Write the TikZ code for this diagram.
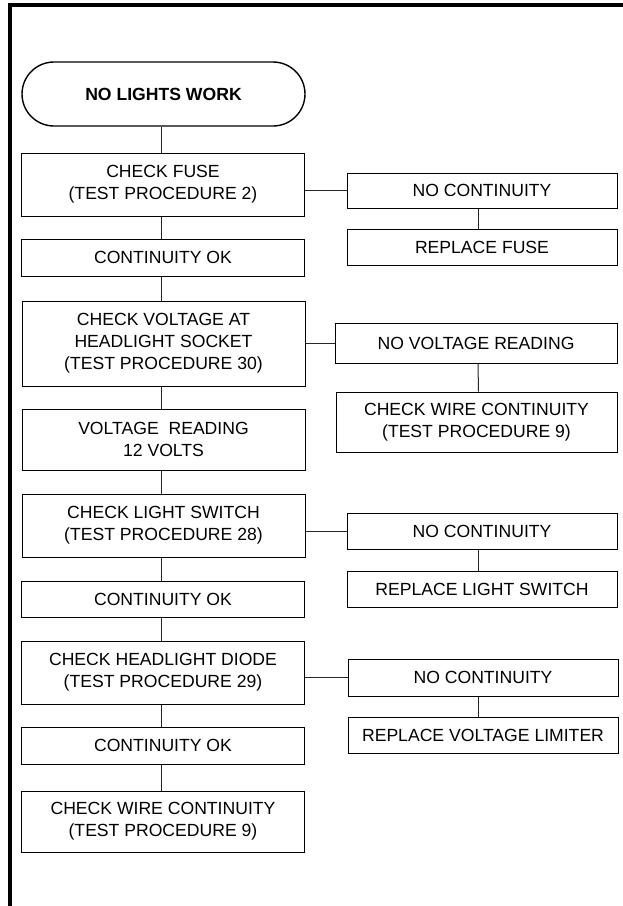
\documentclass[tikz,border=0pt]{standalone}
\usepackage{fontspec}
\setmainfont{Liberation Sans}
\begin{document}
\begin{tikzpicture}[x=1pt,y=-1pt,
  box/.style={draw=black,line width=1pt,inner sep=0pt,align=center,
    font=\fontsize{17.6}{22}\selectfont,text=black},
  mainbox/.style={box,minimum width=283pt},
  sidebox/.style={box,minimum width=270pt},
  term/.style={box,minimum width=283pt,minimum height=64pt,rounded corners=32pt,
    line width=1.4pt,font=\fontsize{17.6}{22}\selectfont\bfseries},
  link/.style={draw=black!85,line width=1pt}]
\useasboundingbox (0,0) rectangle (623,906);
\fill[white] (0,0) rectangle (623,906);
\draw[line width=4pt] (623,4.7) -- (9.5,4.7) -- (9.5,906);
% main column
\node[term] (start) at (163.5,94) {NO LIGHTS WORK};
\node[mainbox,minimum height=63pt] (f1) at (163,184.5) {CHECK FUSE\\(TEST PROCEDURE 2)};
\node[mainbox,minimum height=37pt] (c1) at (163,257.5) {CONTINUITY OK};
\node[mainbox,minimum height=85pt] (v1) at (163.5,343.5) {CHECK VOLTAGE AT\\HEADLIGHT SOCKET\\(TEST PROCEDURE 30)};
\node[mainbox,minimum height=61pt] (v2) at (163.5,439.5) {VOLTAGE\ \ READING\\12 VOLTS};
\node[mainbox,minimum height=63pt] (s1) at (163.5,525.5) {CHECK LIGHT SWITCH\\(TEST PROCEDURE 28)};
\node[mainbox,minimum height=36pt] (c2) at (163,599) {CONTINUITY OK};
\node[mainbox,minimum height=63pt] (d1) at (163,672.5) {CHECK HEADLIGHT DIODE\\(TEST PROCEDURE 29)};
\node[mainbox,minimum height=37pt] (c3) at (163,745.5) {CONTINUITY OK};
\node[mainbox,minimum height=61pt] (w1) at (163,821.5) {CHECK WIRE CONTINUITY\\(TEST PROCEDURE 9)};
% side column
\node[sidebox,minimum height=35pt] (n1) at (482,190.5) {NO CONTINUITY};
\node[sidebox,minimum height=36pt] (r1) at (482,247) {REPLACE FUSE};
\node[box,minimum width=282pt,minimum height=40pt] (n2) at (476,343) {NO VOLTAGE READING};
\node[box,minimum width=281pt,minimum height=60pt] (r2) at (476.5,422) {CHECK WIRE CONTINUITY\\(TEST PROCEDURE 9)};
\node[sidebox,minimum height=36pt] (n3) at (482,531) {NO CONTINUITY};
\node[sidebox,minimum height=36pt] (r3) at (482,589) {REPLACE LIGHT SWITCH};
\node[sidebox,minimum height=37pt] (n4) at (483,677.5) {NO CONTINUITY};
\node[sidebox,minimum height=36pt] (r4) at (483,735) {REPLACE VOLTAGE LIMITER};
% main connectors
\foreach \a/\b in {start/f1,f1/c1,c1/v1,v1/v2,v2/s1,s1/c2,c2/d1,d1/c3,c3/w1}
  \draw[link] ([xshift=-2pt]\a.south) -- ([xshift=-2pt]\a.south |- \b.north);
% side branches
\foreach \a/\b in {f1/n1,v1/n2,s1/n3,d1/n4}
  \draw[link] (\a.east |- \b.west) -- (\b.west);
\draw[link] ([xshift=-4pt]n1.south) -- ([xshift=-4pt]r1.north);
\draw[link] ([xshift=2pt]n2.south) -- ([xshift=2pt]r2.north);
\draw[link] ([xshift=-4pt]n3.south) -- ([xshift=-4pt]r3.north);
\draw[link] ([xshift=-5pt]n4.south) -- ([xshift=-5pt]r4.north);
\end{tikzpicture}
\end{document}
